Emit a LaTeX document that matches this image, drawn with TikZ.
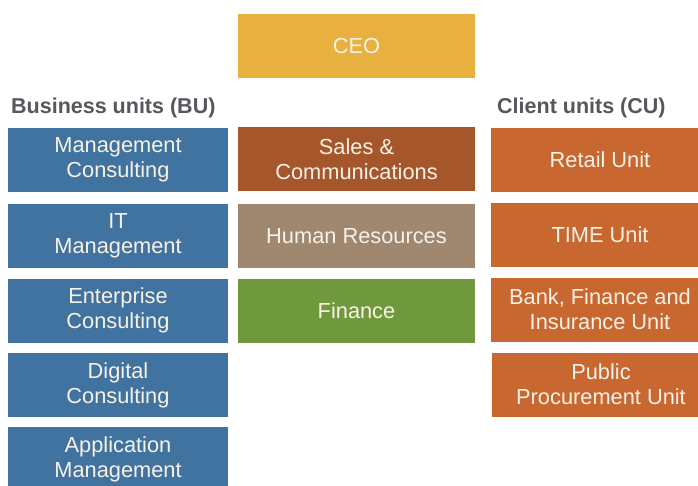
\documentclass[tikz,border=0pt]{standalone}
\usepackage{fontspec}
\setmainfont{Liberation Sans}
\usepackage{xcolor}

\definecolor{ceoyellow}{RGB}{232,177,63}
\definecolor{bublue}{RGB}{64,115,160}
\definecolor{salesbrown}{RGB}{165,86,42}
\definecolor{hrtaupe}{RGB}{160,135,112}
\definecolor{fingreen}{RGB}{112,153,62}
\definecolor{cuorange}{RGB}{200,104,48}
\definecolor{headgray}{RGB}{85,88,92}
\definecolor{boxtext}{RGB}{248,241,230}

\begin{document}
\begin{tikzpicture}[x=1pt,y=-1pt,
        unit/.style={minimum height=64pt, inner sep=0pt, align=center,
            text=boxtext, font=\fontsize{21.8}{25}\selectfont},
        bu/.style={unit, fill=bublue, minimum width=220pt},
        staff/.style={unit, minimum width=237pt},
        cu/.style={unit, fill=cuorange, minimum width=218pt},
        heading/.style={text=headgray, inner sep=0pt, anchor=west,
            font=\bfseries\fontsize{21.5}{25}\selectfont}]
    \useasboundingbox[fill=white] (0,0) rectangle (698,486);

    % top
    \node[staff, fill=ceoyellow] (ceo) at (356.5,46) {CEO};

    % headings
    \node[heading] (buhead) at (11,107.5) {Business units (BU)};
    \node[heading] (cuhead) at (497,107.5) {Client units (CU)};

    % business units
    \node[bu] (mc) at (118,160) {Management\\Consulting};
    \node[bu] (itm) at (118,236) {IT\\Management};
    \node[bu] (ec) at (118,310.5) {Enterprise\\Consulting};
    \node[bu] (dc) at (118,385) {Digital\\Consulting};
    \node[bu] (am) at (118,459) {Application\\Management};

    % staff functions
    \node[staff, fill=salesbrown] (sales) at (356.5,159.5) {Sales \&\\Communications};
    \node[staff, fill=hrtaupe] (hr) at (356.5,236) {Human Resources};
    \node[staff, fill=fingreen] (fin) at (356.5,310.5) {Finance};

    % client units
    \node[cu] (retail) at (600,160) {Retail Unit};
    \node[cu] (time) at (600,235) {TIME Unit};
    \node[cu] (bfi) at (600,309.5) {Bank, Finance and\\Insurance Unit};
    \node[cu] (pp) at (601,384.5) {Public\\Procurement Unit};
\end{tikzpicture}
\end{document}
